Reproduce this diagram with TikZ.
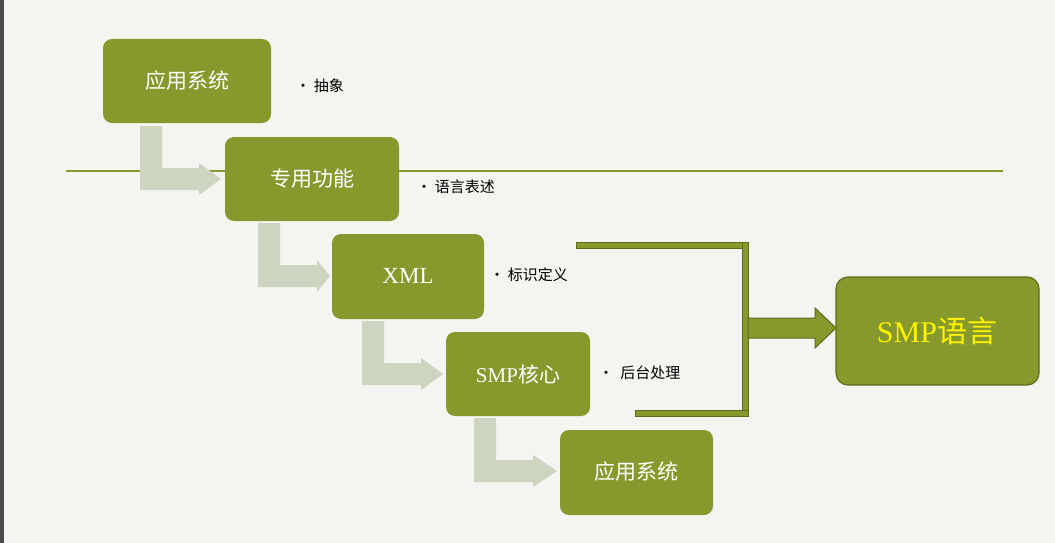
\documentclass[tikz,border=0pt]{standalone}
\usepackage{fontspec}
\setmainfont{Liberation Serif}
\newfontfamily\cjk{Noto Sans CJK SC}
\definecolor{olive}{HTML}{86992D}
\definecolor{oliveD}{HTML}{5E6B1A}
\definecolor{pale}{HTML}{CDD5C0}
\definecolor{bg}{HTML}{F4F4F1}
\begin{document}
\begin{tikzpicture}[x=1pt,y=-1pt,
  box/.style={fill=olive,rounded corners=9pt,text=white,font=\fontsize{21}{24}\selectfont},
  lbl/.style={anchor=west,font=\cjk\fontsize{15}{18}\selectfont},
  bent/.style={fill=pale}]
\fill[bg] (0,0) rectangle (1055,543);
\fill[black!70] (0,0) rectangle (4,543);
\useasboundingbox (0,0) rectangle (1055,543);
\draw[olive,line width=1.5pt] (66,171) -- (1003,171);
\foreach \dx/\dy/\tip in {0/0/221, 118/97/330, 222/195/443, 334/292/557}{
  \fill[pale] (140+\dx,126+\dy) -- (162+\dx,126+\dy) -- (162+\dx,168+\dy) -- (199+\dx,168+\dy) -- (199+\dx,163+\dy)
     -- (\tip,179+\dy) -- (199+\dx,195+\dy) -- (199+\dx,190+\dy) -- (140+\dx,190+\dy) -- cycle;
}
\fill[box] (103,39) rectangle (271,123);
\node[text=white,font=\cjk\fontsize{21}{24}\selectfont] (b1) at (187,81) {应用系统};
\fill[box] (225,137) rectangle (399,221);
\node[text=white,font=\cjk\fontsize{21}{24}\selectfont] (b2) at (312,179) {专用功能};
\fill[box] (332,234) rectangle (484,319);
\node[text=white,font=\fontsize{23}{26}\selectfont] (b3) at (408,276) {XML};
\fill[box] (446,332) rectangle (590,416);
\node[text=white,font=\fontsize{21}{24}\selectfont] (b4) at (518,374) {SMP{\cjk 核心}};
\fill[box] (560,430) rectangle (713,515);
\node[text=white,font=\cjk\fontsize{21}{24}\selectfont] (b5) at (636,472) {应用系统};
\draw[oliveD,fill=olive,line width=1.2pt,rounded corners=12pt] (836,277) rectangle (1039,385);
\node[text=yellow,font=\fontsize{30}{34}\selectfont] (smp) at (937,331) {SMP{\cjk 语言}};
\node[lbl] (l1) at (292,86) {• 抽象};
\node[lbl] (l2) at (413,187) {• 语言表述};
\node[lbl] (l3) at (486,275) {• 标识定义};
\node[lbl] (l4) at (595,373) {•\ \ 后台处理};
\begin{scope}[fill=olive,draw=oliveD,line width=1pt]
\filldraw (576,242) rectangle (748,248);
\filldraw (742,242) rectangle (748,416);
\filldraw (635,410) rectangle (748,416);
\filldraw (748,318) -- (815,318) -- (815,308) -- (836,328) -- (815,348) -- (815,338) -- (748,338) -- cycle;
\end{scope}
\end{tikzpicture}
\end{document}
